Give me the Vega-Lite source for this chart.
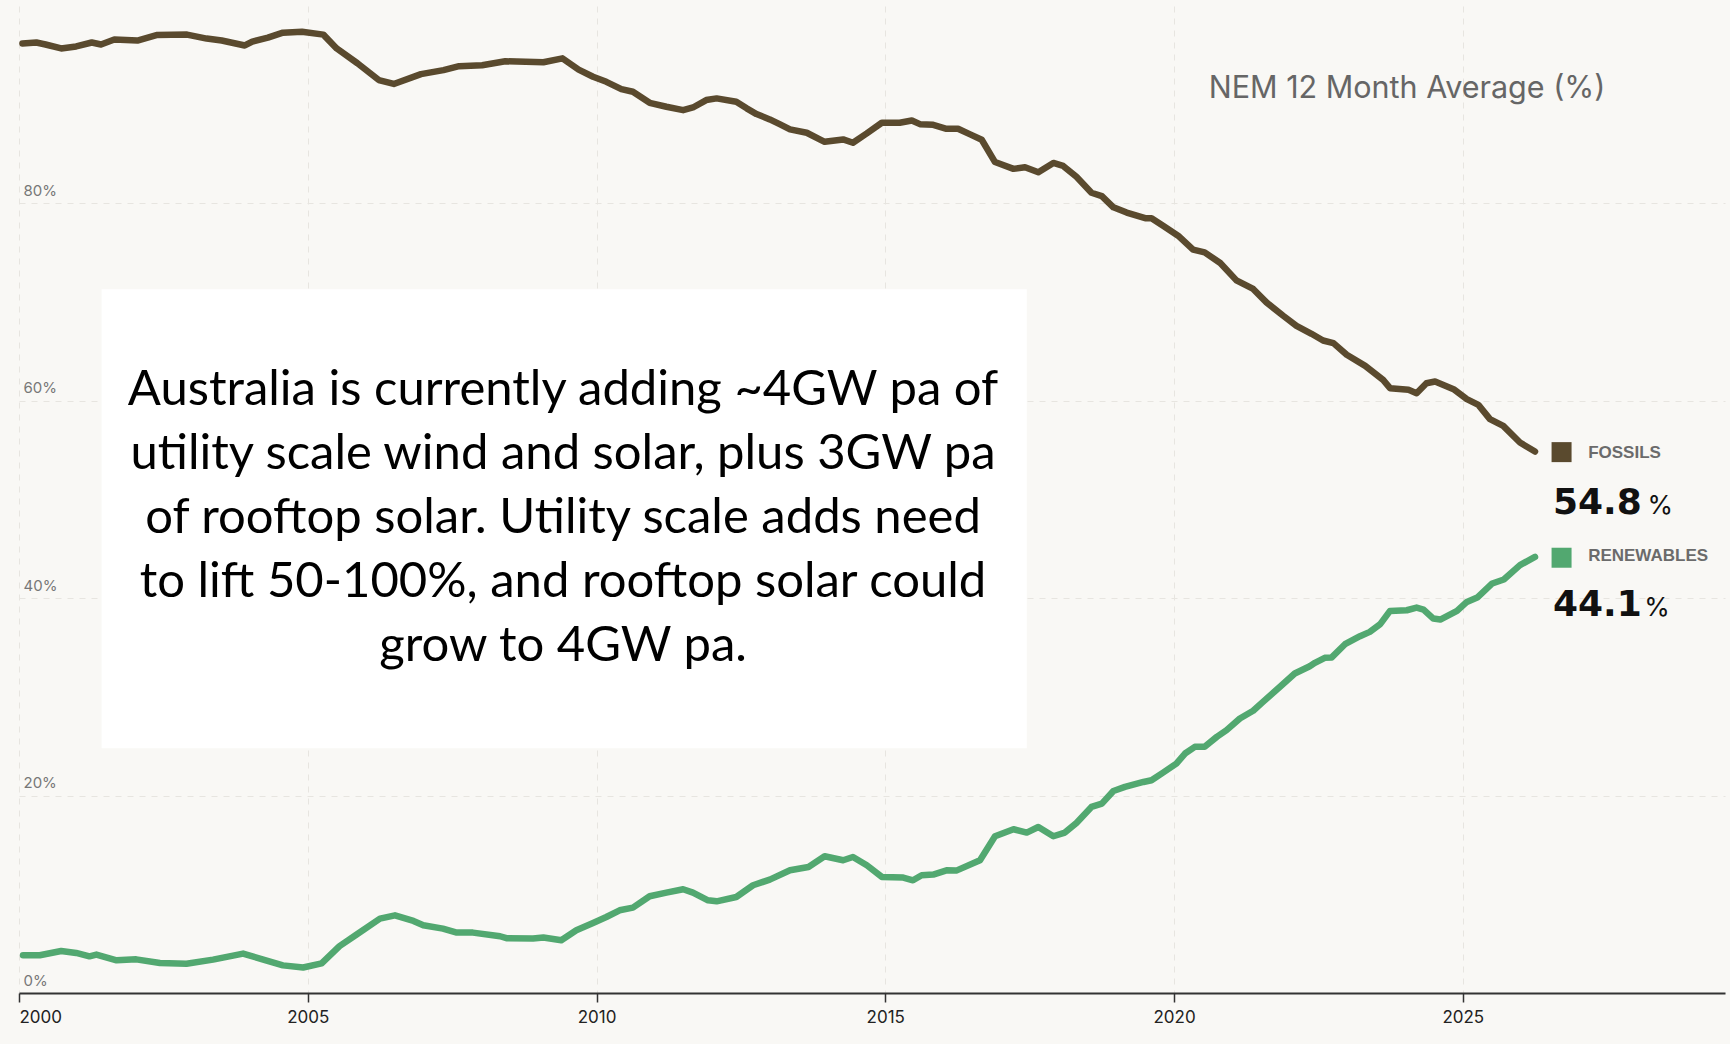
{
  "$schema": "https://vega.github.io/schema/vega-lite/v6.json",
  "autosize": {"type": "none"},
  "width": 1706,
  "height": 987,
  "padding": {"left": 19, "top": 6, "right": 5, "bottom": 51},
  "background": "#f9f8f5",
  "config": {
    "view": {"stroke": null},
    "font": "Inter"
  },
  "datasets": {
    "series": [
      {"year": 2000.06, "series": "Fossils", "value": 96.2},
      {"year": 2000.30, "series": "Fossils", "value": 96.3},
      {"year": 2000.46, "series": "Fossils", "value": 96.1},
      {"year": 2000.73, "series": "Fossils", "value": 95.7},
      {"year": 2000.99, "series": "Fossils", "value": 95.9},
      {"year": 2001.26, "series": "Fossils", "value": 96.3},
      {"year": 2001.42, "series": "Fossils", "value": 96.1},
      {"year": 2001.65, "series": "Fossils", "value": 96.6},
      {"year": 2002.05, "series": "Fossils", "value": 96.5},
      {"year": 2002.38, "series": "Fossils", "value": 97.05},
      {"year": 2002.91, "series": "Fossils", "value": 97.1},
      {"year": 2003.25, "series": "Fossils", "value": 96.7},
      {"year": 2003.51, "series": "Fossils", "value": 96.5},
      {"year": 2003.91, "series": "Fossils", "value": 96.0},
      {"year": 2004.04, "series": "Fossils", "value": 96.4},
      {"year": 2004.31, "series": "Fossils", "value": 96.8},
      {"year": 2004.57, "series": "Fossils", "value": 97.3},
      {"year": 2004.90, "series": "Fossils", "value": 97.4},
      {"year": 2005.27, "series": "Fossils", "value": 97.1},
      {"year": 2005.50, "series": "Fossils", "value": 95.7},
      {"year": 2005.86, "series": "Fossils", "value": 94.2},
      {"year": 2006.23, "series": "Fossils", "value": 92.5},
      {"year": 2006.49, "series": "Fossils", "value": 92.1},
      {"year": 2006.96, "series": "Fossils", "value": 93.1},
      {"year": 2007.35, "series": "Fossils", "value": 93.5},
      {"year": 2007.62, "series": "Fossils", "value": 93.9},
      {"year": 2008.02, "series": "Fossils", "value": 94.0},
      {"year": 2008.42, "series": "Fossils", "value": 94.4},
      {"year": 2009.08, "series": "Fossils", "value": 94.3},
      {"year": 2009.41, "series": "Fossils", "value": 94.7},
      {"year": 2009.69, "series": "Fossils", "value": 93.55},
      {"year": 2009.94, "series": "Fossils", "value": 92.83},
      {"year": 2010.17, "series": "Fossils", "value": 92.32},
      {"year": 2010.43, "series": "Fossils", "value": 91.58},
      {"year": 2010.63, "series": "Fossils", "value": 91.31},
      {"year": 2010.92, "series": "Fossils", "value": 90.19},
      {"year": 2011.21, "series": "Fossils", "value": 89.79},
      {"year": 2011.50, "series": "Fossils", "value": 89.45},
      {"year": 2011.67, "series": "Fossils", "value": 89.72},
      {"year": 2011.90, "series": "Fossils", "value": 90.47},
      {"year": 2012.08, "series": "Fossils", "value": 90.64},
      {"year": 2012.42, "series": "Fossils", "value": 90.30},
      {"year": 2012.60, "series": "Fossils", "value": 89.63},
      {"year": 2012.77, "series": "Fossils", "value": 89.05},
      {"year": 2013.00, "series": "Fossils", "value": 88.51},
      {"year": 2013.17, "series": "Fossils", "value": 88.03},
      {"year": 2013.35, "series": "Fossils", "value": 87.50},
      {"year": 2013.64, "series": "Fossils", "value": 87.16},
      {"year": 2013.95, "series": "Fossils", "value": 86.24},
      {"year": 2014.27, "series": "Fossils", "value": 86.48},
      {"year": 2014.44, "series": "Fossils", "value": 86.14},
      {"year": 2014.68, "series": "Fossils", "value": 87.09},
      {"year": 2014.94, "series": "Fossils", "value": 88.17},
      {"year": 2015.25, "series": "Fossils", "value": 88.17},
      {"year": 2015.46, "series": "Fossils", "value": 88.4},
      {"year": 2015.60, "series": "Fossils", "value": 88.03},
      {"year": 2015.83, "series": "Fossils", "value": 87.96},
      {"year": 2016.06, "series": "Fossils", "value": 87.56},
      {"year": 2016.26, "series": "Fossils", "value": 87.56},
      {"year": 2016.47, "series": "Fossils", "value": 86.99},
      {"year": 2016.67, "series": "Fossils", "value": 86.45},
      {"year": 2016.90, "series": "Fossils", "value": 84.19},
      {"year": 2017.22, "series": "Fossils", "value": 83.5},
      {"year": 2017.42, "series": "Fossils", "value": 83.67},
      {"year": 2017.65, "series": "Fossils", "value": 83.16},
      {"year": 2017.91, "series": "Fossils", "value": 84.1},
      {"year": 2018.08, "series": "Fossils", "value": 83.8},
      {"year": 2018.31, "series": "Fossils", "value": 82.7},
      {"year": 2018.57, "series": "Fossils", "value": 81.08},
      {"year": 2018.75, "series": "Fossils", "value": 80.74},
      {"year": 2018.95, "series": "Fossils", "value": 79.6},
      {"year": 2019.18, "series": "Fossils", "value": 79.07},
      {"year": 2019.50, "series": "Fossils", "value": 78.5},
      {"year": 2019.61, "series": "Fossils", "value": 78.5},
      {"year": 2019.81, "series": "Fossils", "value": 77.74},
      {"year": 2020.07, "series": "Fossils", "value": 76.73},
      {"year": 2020.33, "series": "Fossils", "value": 75.31},
      {"year": 2020.53, "series": "Fossils", "value": 75.04},
      {"year": 2020.80, "series": "Fossils", "value": 73.96},
      {"year": 2021.08, "series": "Fossils", "value": 72.2},
      {"year": 2021.37, "series": "Fossils", "value": 71.33},
      {"year": 2021.60, "series": "Fossils", "value": 69.97},
      {"year": 2021.89, "series": "Fossils", "value": 68.62},
      {"year": 2022.12, "series": "Fossils", "value": 67.6},
      {"year": 2022.38, "series": "Fossils", "value": 66.79},
      {"year": 2022.58, "series": "Fossils", "value": 66.11},
      {"year": 2022.76, "series": "Fossils", "value": 65.84},
      {"year": 2022.99, "series": "Fossils", "value": 64.66},
      {"year": 2023.31, "series": "Fossils", "value": 63.54},
      {"year": 2023.62, "series": "Fossils", "value": 62.12},
      {"year": 2023.74, "series": "Fossils", "value": 61.28},
      {"year": 2024.06, "series": "Fossils", "value": 61.11},
      {"year": 2024.20, "series": "Fossils", "value": 60.77},
      {"year": 2024.37, "series": "Fossils", "value": 61.78},
      {"year": 2024.52, "series": "Fossils", "value": 61.95},
      {"year": 2024.84, "series": "Fossils", "value": 61.18},
      {"year": 2025.07, "series": "Fossils", "value": 60.17},
      {"year": 2025.27, "series": "Fossils", "value": 59.59},
      {"year": 2025.47, "series": "Fossils", "value": 58.14},
      {"year": 2025.70, "series": "Fossils", "value": 57.46},
      {"year": 2025.99, "series": "Fossils", "value": 55.77},
      {"year": 2026.25, "series": "Fossils", "value": 54.86},
      {"year": 2000.07, "series": "Renewables", "value": 3.82},
      {"year": 2000.36, "series": "Renewables", "value": 3.82},
      {"year": 2000.73, "series": "Renewables", "value": 4.26},
      {"year": 2000.99, "series": "Renewables", "value": 4.06},
      {"year": 2001.22, "series": "Renewables", "value": 3.72},
      {"year": 2001.34, "series": "Renewables", "value": 3.89},
      {"year": 2001.69, "series": "Renewables", "value": 3.31},
      {"year": 2002.03, "series": "Renewables", "value": 3.41},
      {"year": 2002.44, "series": "Renewables", "value": 3.04},
      {"year": 2002.90, "series": "Renewables", "value": 2.97},
      {"year": 2003.36, "series": "Renewables", "value": 3.38},
      {"year": 2003.88, "series": "Renewables", "value": 3.99},
      {"year": 2004.23, "series": "Renewables", "value": 3.38},
      {"year": 2004.57, "series": "Renewables", "value": 2.8},
      {"year": 2004.92, "series": "Renewables", "value": 2.58},
      {"year": 2005.24, "series": "Renewables", "value": 3.0},
      {"year": 2005.55, "series": "Renewables", "value": 4.75},
      {"year": 2005.84, "series": "Renewables", "value": 5.9},
      {"year": 2006.25, "series": "Renewables", "value": 7.54},
      {"year": 2006.51, "series": "Renewables", "value": 7.87},
      {"year": 2006.83, "series": "Renewables", "value": 7.30},
      {"year": 2007.00, "series": "Renewables", "value": 6.86},
      {"year": 2007.34, "series": "Renewables", "value": 6.52},
      {"year": 2007.58, "series": "Renewables", "value": 6.12},
      {"year": 2007.86, "series": "Renewables", "value": 6.12},
      {"year": 2008.33, "series": "Renewables", "value": 5.75},
      {"year": 2008.44, "series": "Renewables", "value": 5.55},
      {"year": 2008.90, "series": "Renewables", "value": 5.52},
      {"year": 2009.08, "series": "Renewables", "value": 5.62},
      {"year": 2009.39, "series": "Renewables", "value": 5.34},
      {"year": 2009.65, "series": "Renewables", "value": 6.35},
      {"year": 2009.94, "series": "Renewables", "value": 7.09},
      {"year": 2010.17, "series": "Renewables", "value": 7.70},
      {"year": 2010.40, "series": "Renewables", "value": 8.38},
      {"year": 2010.63, "series": "Renewables", "value": 8.65},
      {"year": 2010.92, "series": "Renewables", "value": 9.80},
      {"year": 2011.21, "series": "Renewables", "value": 10.17},
      {"year": 2011.50, "series": "Renewables", "value": 10.51},
      {"year": 2011.67, "series": "Renewables", "value": 10.17},
      {"year": 2011.93, "series": "Renewables", "value": 9.39},
      {"year": 2012.08, "series": "Renewables", "value": 9.29},
      {"year": 2012.42, "series": "Renewables", "value": 9.73},
      {"year": 2012.71, "series": "Renewables", "value": 10.92},
      {"year": 2013.00, "series": "Renewables", "value": 11.49},
      {"year": 2013.35, "series": "Renewables", "value": 12.43},
      {"year": 2013.67, "series": "Renewables", "value": 12.77},
      {"year": 2013.95, "series": "Renewables", "value": 13.85},
      {"year": 2014.27, "series": "Renewables", "value": 13.45},
      {"year": 2014.44, "series": "Renewables", "value": 13.78},
      {"year": 2014.68, "series": "Renewables", "value": 12.94},
      {"year": 2014.94, "series": "Renewables", "value": 11.76},
      {"year": 2015.31, "series": "Renewables", "value": 11.69},
      {"year": 2015.48, "series": "Renewables", "value": 11.42},
      {"year": 2015.63, "series": "Renewables", "value": 11.93},
      {"year": 2015.83, "series": "Renewables", "value": 12.0},
      {"year": 2016.06, "series": "Renewables", "value": 12.43},
      {"year": 2016.23, "series": "Renewables", "value": 12.4},
      {"year": 2016.64, "series": "Renewables", "value": 13.45},
      {"year": 2016.90, "series": "Renewables", "value": 15.88},
      {"year": 2017.22, "series": "Renewables", "value": 16.59},
      {"year": 2017.45, "series": "Renewables", "value": 16.25},
      {"year": 2017.65, "series": "Renewables", "value": 16.82},
      {"year": 2017.91, "series": "Renewables", "value": 15.88},
      {"year": 2018.11, "series": "Renewables", "value": 16.25},
      {"year": 2018.31, "series": "Renewables", "value": 17.23},
      {"year": 2018.57, "series": "Renewables", "value": 18.85},
      {"year": 2018.75, "series": "Renewables", "value": 19.19},
      {"year": 2018.95, "series": "Renewables", "value": 20.47},
      {"year": 2019.15, "series": "Renewables", "value": 20.88},
      {"year": 2019.47, "series": "Renewables", "value": 21.38},
      {"year": 2019.61, "series": "Renewables", "value": 21.55},
      {"year": 2019.81, "series": "Renewables", "value": 22.33},
      {"year": 2020.04, "series": "Renewables", "value": 23.24},
      {"year": 2020.19, "series": "Renewables", "value": 24.26},
      {"year": 2020.36, "series": "Renewables", "value": 24.94},
      {"year": 2020.53, "series": "Renewables", "value": 24.94},
      {"year": 2020.74, "series": "Renewables", "value": 25.95},
      {"year": 2020.91, "series": "Renewables", "value": 26.63},
      {"year": 2021.14, "series": "Renewables", "value": 27.81},
      {"year": 2021.37, "series": "Renewables", "value": 28.6},
      {"year": 2021.54, "series": "Renewables", "value": 29.5},
      {"year": 2021.83, "series": "Renewables", "value": 31.0},
      {"year": 2022.09, "series": "Renewables", "value": 32.37},
      {"year": 2022.35, "series": "Renewables", "value": 33.11},
      {"year": 2022.44, "series": "Renewables", "value": 33.45},
      {"year": 2022.61, "series": "Renewables", "value": 33.96},
      {"year": 2022.73, "series": "Renewables", "value": 34.0},
      {"year": 2022.96, "series": "Renewables", "value": 35.34},
      {"year": 2023.22, "series": "Renewables", "value": 36.15},
      {"year": 2023.39, "series": "Renewables", "value": 36.59},
      {"year": 2023.57, "series": "Renewables", "value": 37.37},
      {"year": 2023.74, "series": "Renewables", "value": 38.71},
      {"year": 2024.03, "series": "Renewables", "value": 38.78},
      {"year": 2024.20, "series": "Renewables", "value": 39.05},
      {"year": 2024.32, "series": "Renewables", "value": 38.85},
      {"year": 2024.49, "series": "Renewables", "value": 37.94},
      {"year": 2024.61, "series": "Renewables", "value": 37.84},
      {"year": 2024.90, "series": "Renewables", "value": 38.71},
      {"year": 2025.07, "series": "Renewables", "value": 39.62},
      {"year": 2025.25, "series": "Renewables", "value": 40.07},
      {"year": 2025.51, "series": "Renewables", "value": 41.49},
      {"year": 2025.71, "series": "Renewables", "value": 41.9},
      {"year": 2025.99, "series": "Renewables", "value": 43.35},
      {"year": 2026.25, "series": "Renewables", "value": 44.19}
    ],
    "box": [{"x1": 2001.43, "x2": 2017.45, "y1": 71.31, "y2": 24.8}],
    "note": [{"x": 2009.42, "y": 59.56, "text": "Australia is currently adding ~4GW pa of\nutility scale wind and solar, plus 3GW pa\nof rooftop solar. Utility scale adds need\nto lift 50-100%, and rooftop solar could\ngrow to 4GW pa."}],
    "heading": [{"x": 2020.6, "y": 90.67, "text": "NEM 12 Month Average (%)"}],
    "legend": [
      {"series": "Fossils", "name": "FOSSILS", "sx": 2026.71, "sy": 54.8, "nx": 2027.17, "ny": 54.25, "vx": 2026.56, "vy": 48.58, "value": "54.8", "px": 2028.2},
      {"series": "Renewables", "name": "RENEWABLES", "sx": 2026.71, "sy": 44.1, "nx": 2027.17, "ny": 43.75, "vx": 2026.56, "vy": 38.17, "value": "44.1", "px": 2028.14}
    ]
  },
  "layer": [
    {
      "data": {"name": "box"},
      "mark": {"type": "rect", "fill": "#ffffff"},
      "encoding": {
        "x": {
          "field": "x1", "type": "quantitative",
          "scale": {"domain": [2000, 2029.54], "nice": false, "zero": false},
          "axis": {
            "values": [2000, 2005, 2010, 2015, 2020, 2025],
            "format": "d",
            "labelFlush": true,
            "labelOverlap": false,
            "labelFont": "Inter",
            "labelFontSize": 17,
            "labelColor": "#222222",
            "labelPadding": 7,
            "tickColor": "#333333",
            "tickSize": 9,
            "tickWidth": 1.5,
            "domainColor": "#333333",
            "domainWidth": 1.8,
            "grid": true,
            "gridColor": "#e7e5e0",
            "gridDash": [6, 6],
            "gridWidth": 1,
            "title": null
          }
        },
        "x2": {"field": "x2"},
        "y": {
          "field": "y1", "type": "quantitative",
          "scale": {"domain": [0, 100], "nice": false},
          "axis": {
            "values": [0, 20, 40, 60, 80],
            "labelExpr": "datum.value + '%'",
            "labelAlign": "left",
            "labelBaseline": "alphabetic",
            "labelPadding": -4,
            "labelOffset": -8,
            "labelOverlap": false,
            "labelFont": "Inter",
            "labelFontSize": 15,
            "labelColor": "#777777",
            "ticks": false,
            "tickSize": 0,
            "domain": false,
            "grid": true,
            "gridColor": "#e7e5e0",
            "gridDash": [6, 6],
            "gridWidth": 1,
            "title": null
          }
        },
        "y2": {"field": "y2"}
      }
    },
    {
      "data": {"name": "series"},
      "mark": {"type": "line", "strokeWidth": 6.5, "strokeCap": "round", "strokeJoin": "round"},
      "encoding": {
        "x": {"field": "year", "type": "quantitative"},
        "y": {"field": "value", "type": "quantitative"},
        "color": {"field": "series", "type": "nominal", "scale": {"domain": ["Fossils", "Renewables"], "range": ["#5a4a2e", "#52a870"]}, "legend": null},
        "order": {"field": "year", "type": "quantitative"}
      }
    },
    {
      "data": {"name": "note"},
      "mark": {"type": "text", "font": "Lato", "fontSize": 49, "align": "center", "baseline": "alphabetic", "lineBreak": "\n", "lineHeight": 64, "color": "#000000"},
      "encoding": {
        "x": {"field": "x", "type": "quantitative"},
        "y": {"field": "y", "type": "quantitative"},
        "text": {"field": "text"}
      }
    },
    {
      "data": {"name": "heading"},
      "mark": {"type": "text", "font": "Inter", "fontSize": 30.5, "align": "left", "baseline": "alphabetic", "color": "#666666"},
      "encoding": {
        "x": {"field": "x", "type": "quantitative"},
        "y": {"field": "y", "type": "quantitative"},
        "text": {"field": "text"}
      }
    },
    {
      "data": {"name": "legend"},
      "mark": {"type": "point", "shape": "square", "filled": true, "size": 400, "opacity": 1},
      "encoding": {
        "x": {"field": "sx", "type": "quantitative"},
        "y": {"field": "sy", "type": "quantitative"},
        "color": {"field": "series", "type": "nominal", "legend": null}
      }
    },
    {
      "data": {"name": "legend"},
      "mark": {"type": "text", "font": "Liberation Sans", "fontSize": 17, "fontWeight": "bold", "align": "left", "baseline": "alphabetic", "color": "#6b6b6b"},
      "encoding": {
        "x": {"field": "nx", "type": "quantitative"},
        "y": {"field": "ny", "type": "quantitative"},
        "text": {"field": "name"}
      }
    },
    {
      "data": {"name": "legend"},
      "mark": {"type": "text", "font": "DejaVu Sans", "fontSize": 36, "fontWeight": "bold", "align": "left", "baseline": "alphabetic", "color": "#111111"},
      "encoding": {
        "x": {"field": "vx", "type": "quantitative"},
        "y": {"field": "vy", "type": "quantitative"},
        "text": {"field": "value"}
      }
    },
    {
      "data": {"name": "legend"},
      "mark": {"type": "text", "font": "Inter", "fontSize": 26, "align": "left", "baseline": "alphabetic", "color": "#111111"},
      "encoding": {
        "x": {"field": "px", "type": "quantitative"},
        "y": {"field": "vy", "type": "quantitative"},
        "text": {"value": "%"}
      }
    }
  ]
}
